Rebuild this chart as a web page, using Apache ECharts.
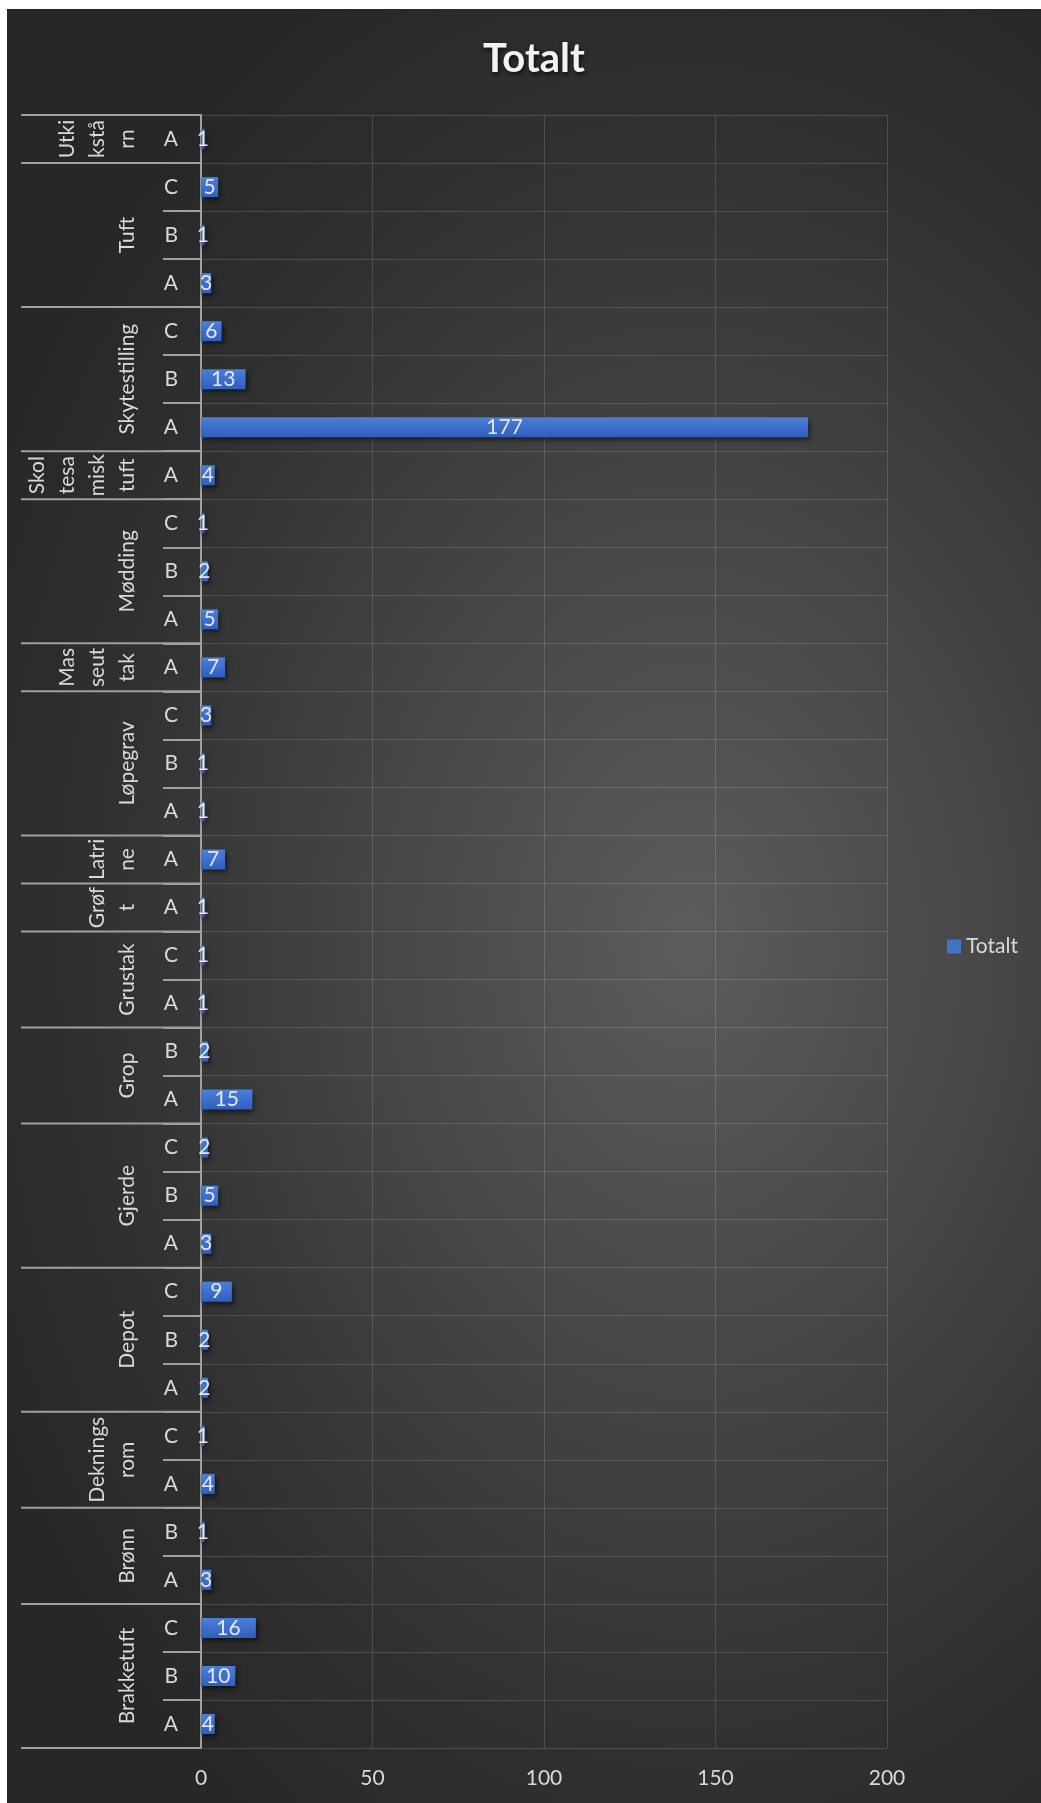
<!DOCTYPE html>
<html>
<head>
<meta charset="utf-8">
<script src="https://cdn.jsdelivr.net/npm/echarts@6/dist/echarts.min.js"></script>
<style>
  html, body { margin: 0; padding: 0; background: #ffffff; }
  #bg {
    position: absolute; left: 7px; top: 9px; right: 0; bottom: 0;
    background: radial-gradient(ellipse 75% 60% at 66% 52%, #5c5c5c 0%, #474747 38%, #313131 75%, #272727 100%);
  }
  #main { position: absolute; left: 0; top: 0; width: 1041px; height: 1803px; }
</style>
</head>
<body>
<div id="bg"></div>
<div id="main"></div>
<script>
  // grupper nedenfra og opp
  var groupNames = ['Brakketuft', 'Brønn', 'Dekningsrom', 'Depot', 'Gjerde', 'Grop', 'Grustak', 'Grøft',
    'Latrine', 'Løpegrav', 'Masseuttak', 'Mødding', 'Skoltesamisk tuft', 'Skytestilling', 'Tuft', 'Utkikstårn']
  // slik teksten brytes i figuren
  var groupLabels = ['Brakketuft', 'Brønn', 'Deknings\nrom', 'Depot', 'Gjerde', 'Grop', 'Grustak', 'Grøf\nt',
    'Latri\nne', 'Løpegrav', 'Mas\nseut\ntak', 'Mødding', 'Skol\ntesa\nmisk\ntuft', 'Skytestilling', 'Tuft', 'Utki\nkstå\nrn']
  var subCats = [['A', 'B', 'C'], ['A', 'B'], ['A', 'C'], ['A', 'B', 'C'], ['A', 'B', 'C'], ['A', 'B'], ['A', 'C'], ['A'],
    ['A'], ['A', 'B', 'C'], ['A'], ['A', 'B', 'C'], ['A'], ['A', 'B', 'C'], ['A', 'B', 'C'], ['A']]
  var groupValues = [[4, 10, 16], [3, 1], [4, 1], [2, 2, 9], [3, 5, 2], [15, 2], [1, 1], [1],
    [7], [1, 1, 3], [7], [5, 2, 1], [4], [177, 13, 6], [3, 1, 5], [1]]
  var xTicks = [0, 50, 100, 150, 200]

  var FONT = 'Lato, "Open Sans", sans-serif'
  var FS = 21
  var TXT = '#d9d9d9'
  var LINE = '#a0a0a0'
  var GRID = 'rgba(255,255,255,0.14)'

  // flate ut kategorier og verdier
  var categories = []
  var values = []
  var groupSpans = []
  groupNames.forEach(function (g, i) {
    groupSpans.push([0, categories.length, subCats[i].length])
    subCats[i].forEach(function (s, j) {
      categories.push(g + '|' + s)
      values.push(groupValues[i][j])
    })
  })

  var myChart = echarts.init(document.getElementById('main'))

  var option = {
    backgroundColor: 'transparent',
    animation: false,
    title: {
      text: 'Totalt',
      left: 529,
      textAlign: 'center',
      top: 34,
      textStyle: {
        fontFamily: FONT,
        fontSize: 40,
        fontWeight: 'bold',
        color: '#f2f2f2',
        textShadowColor: 'rgba(0,0,0,0.75)',
        textShadowBlur: 4,
        textShadowOffsetX: 1,
        textShadowOffsetY: 2
      }
    },
    legend: {
      data: ['Totalt'],
      orient: 'vertical',
      left: 942,
      top: 931,
      icon: 'rect',
      itemWidth: 14,
      itemHeight: 14,
      itemStyle: { color: '#4472c4' },
      textStyle: { fontFamily: FONT, fontSize: FS, color: TXT }
    },
    grid: {
      left: 201,
      right: 154,
      top: 115,
      bottom: 55
    },
    xAxis: {
      type: 'value',
      min: xTicks[0],
      max: xTicks[xTicks.length - 1],
      interval: xTicks[1] - xTicks[0],
      axisLine: { show: false },
      axisTick: { show: false },
      axisLabel: { fontFamily: FONT, fontSize: FS, color: TXT, margin: 20 },
      splitLine: { lineStyle: { color: GRID, width: 1 } }
    },
    yAxis: {
      type: 'category',
      data: categories,
      axisLine: { lineStyle: { color: LINE, width: 2 } },
      axisTick: { show: true, interval: 0, length: 38, lineStyle: { color: LINE, width: 2 } },
      axisLabel: {
        interval: 0,
        margin: 23,
        fontFamily: FONT,
        fontSize: FS,
        color: TXT,
        formatter: function (v) { return v.split('|')[1] }
      },
      splitLine: { show: true, interval: 0, lineStyle: { color: GRID, width: 1 } }
    },
    series: [
      {
        name: 'Totalt',
        type: 'bar',
        barWidth: 20,
        data: values,
        itemStyle: {
          color: new echarts.graphic.LinearGradient(0, 0, 0, 1, [
            { offset: 0, color: '#4b7fd8' },
            { offset: 1, color: '#2f5fbf' }
          ]),
          shadowColor: 'rgba(0,0,0,0.6)',
          shadowBlur: 5,
          shadowOffsetX: 2,
          shadowOffsetY: 3
        },
        label: {
          show: true,
          position: 'inside',
          fontFamily: FONT,
          fontSize: FS,
          color: '#e8e8e8'
        },
        z: 3
      },
      {
        // gruppeetiketter og skillelinjer til venstre for aksen
        name: 'grupper',
        type: 'custom',
        encode: { x: 0, y: 1 },
        data: groupSpans,
        silent: true,
        z: 4,
        renderItem: function (params, api) {
          var start = api.value(1)
          var count = api.value(2)
          var band = api.size([0, 1])[1]
          var x0 = api.coord([0, start])[0]
          var bottom = api.coord([0, start])[1] + band / 2
          var top = api.coord([0, start + count - 1])[1] - band / 2
          var children = [
            {
              type: 'line',
              shape: { x1: x0 - 180, y1: bottom, x2: x0, y2: bottom },
              style: { stroke: LINE, lineWidth: 2 }
            },
            {
              type: 'text',
              x: x0 - 59,
              y: (top + bottom) / 2,
              rotation: Math.PI / 2,
              style: {
                text: groupLabels[params.dataIndex],
                fill: TXT,
                fontFamily: FONT,
                fontSize: FS,
                lineHeight: 30,
                align: 'center',
                verticalAlign: 'bottom'
              }
            }
          ]
          if (params.dataIndex === groupNames.length - 1) {
            children.push({
              type: 'line',
              shape: { x1: x0 - 180, y1: top, x2: x0, y2: top },
              style: { stroke: LINE, lineWidth: 2 }
            })
          }
          return { type: 'group', children: children }
        }
      }
    ]
  }

  myChart.setOption(option)
</script>
</body>
</html>
